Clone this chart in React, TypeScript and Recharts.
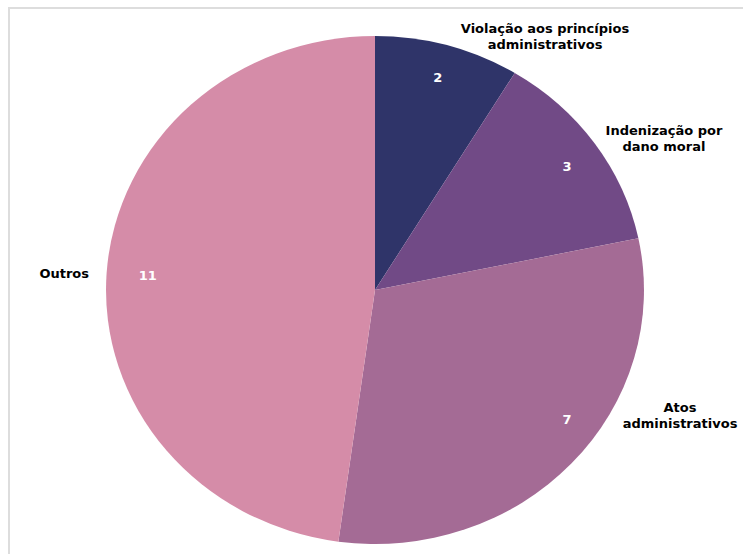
import React from "react";
import { PieChart, Pie, Cell } from "recharts";

const categories = [
  "Violação aos princípios administrativos",
  "Indenização por dano moral",
  "Atos administrativos",
  "Outros",
];
const values = [2, 3, 7, 11];
const labelLines = [
  ["Violação aos princípios", "administrativos"],
  ["Indenização por", "dano moral"],
  ["Atos", "administrativos"],
  ["Outros"],
];
const colors = ["#2f3469", "#714a86", "#a46b95", "#d58ca8"];

const data = categories.map((name, i) => ({ name, value: values[i] }));

const SCALE_X = 1.059;
const RAD = Math.PI / 180;

// outer label offsets relative to the pie centre
const outerPos = [
  { dx: 170, dy: -254, anchor: "middle" },
  { dx: 289, dy: -152, anchor: "middle" },
  { dx: 305, dy: 125, anchor: "middle" },
  { dx: -286, dy: -17, anchor: "end" },
];
const innerNudge = [
  { x: 0, y: -1 },
  { x: 2, y: 3 },
  { x: 22, y: -20 },
  { x: 5, y: 0 },
];

const renderLabel = (props: any) => {
  const { cx, cy, midAngle, outerRadius, index, value } = props;
  const r = outerRadius * 0.865;
  const ix = cx + r * Math.cos(-midAngle * RAD) * SCALE_X + innerNudge[index].x;
  const iy = cy + r * Math.sin(-midAngle * RAD) + innerNudge[index].y;
  const op = outerPos[index];
  const lines = labelLines[index];
  const lh = 16;
  const startY = cy + op.dy - ((lines.length - 1) * lh) / 2;
  return (
    <g key={`lbl-${index}`}>
      <text
        x={ix}
        y={iy}
        fill="#ffffff"
        textAnchor="middle"
        dominantBaseline="central"
        fontFamily="DejaVu Sans, Verdana, sans-serif"
        fontWeight="bold"
        fontSize={13}
      >
        {value}
      </text>
      <text
        x={cx + op.dx}
        y={startY}
        fill="#000000"
        textAnchor={op.anchor as any}
        dominantBaseline="central"
        fontFamily="DejaVu Sans, Verdana, sans-serif"
        fontWeight="bold"
        fontSize={13}
      >
        {lines.map((l, k) => (
          <tspan key={k} x={cx + op.dx} y={startY + k * lh}>
            {l}
          </tspan>
        ))}
      </text>
    </g>
  );
};

export default function App() {
  return (
    <div
      style={{
        position: "absolute",
        left: 0,
        top: 0,
        width: 743,
        height: 554,
        background: "#ffffff",
        overflow: "hidden",
      }}
    >
      <style>{`
        .recharts-pie-sector { transform-origin: 375px 290px; transform: scaleX(${SCALE_X}); }
      `}</style>
      <div
        style={{
          position: "absolute",
          left: 8,
          top: 7,
          width: 743,
          height: 560,
          borderTop: "2px solid #dddddd",
          borderLeft: "2px solid #dddddd",
        }}
      />
      <div style={{ position: "absolute", left: 0, top: 0 }}>
        <PieChart width={743} height={554} margin={{ top: 0, right: 0, bottom: 0, left: 0 }}>
          <Pie
            data={data}
            dataKey="value"
            nameKey="name"
            cx={375}
            cy={290}
            outerRadius={254}
            startAngle={90}
            endAngle={-270}
            stroke="none"
            isAnimationActive={false}
            labelLine={false}
            label={renderLabel}
          >
            {data.map((d, i) => (
              <Cell key={d.name} fill={colors[i]} />
            ))}
          </Pie>
        </PieChart>
      </div>
    </div>
  );
}
